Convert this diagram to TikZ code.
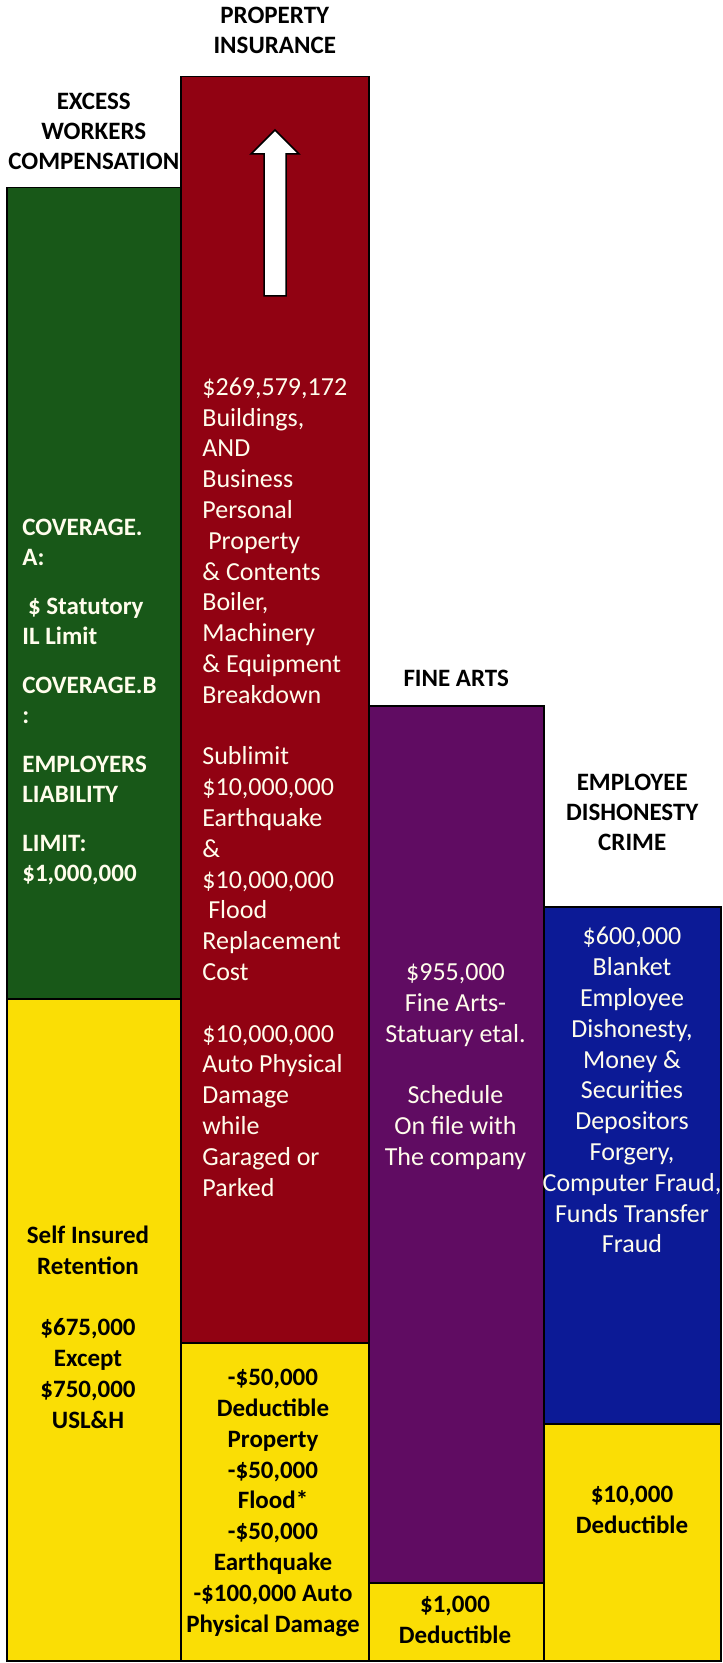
\documentclass[tikz,border=0pt]{standalone}
\usepackage{fontspec}
\setmainfont{Carlito}
\usepackage{tikz}
\usetikzlibrary{positioning}
\definecolor{wcgreen}{RGB}{24,88,24}
\definecolor{propred}{RGB}{145,2,18}
\definecolor{artpurple}{RGB}{96,12,98}
\definecolor{crimeblue}{RGB}{12,26,150}
\definecolor{dedyellow}{RGB}{250,222,5}
\definecolor{cream}{RGB}{255,253,236}

\tikzset{
  bar/.style={draw=black, line width=0.75pt, inner sep=0pt, anchor=north west},
  head/.style={font=\fontsize{12.5}{15}\selectfont\bfseries, align=center, inner sep=0pt,
    execute at begin node=\strut, execute at end node=\strut},
  wctext/.style={font=\fontsize{12.5}{15}\selectfont\bfseries, text=cream, align=left, inner sep=0pt,
    anchor=west, execute at begin node=\strut, execute at end node=\strut},
  cover/.style={font=\fontsize{13}{15.4}\selectfont, text=cream, inner sep=0pt,
    execute at begin node=\strut, execute at end node=\strut},
  retain/.style={font=\fontsize{12.5}{15.4}\selectfont\bfseries, align=center, inner sep=0pt,
    execute at begin node=\strut, execute at end node=\strut}
}

\begin{document}
\begin{tikzpicture}[x=0.5pt, y=-0.5pt]
\useasboundingbox (0,0) rectangle (722,1663);
% bars
\node[bar, fill=wcgreen, minimum width=87pt, minimum height=405.5pt] (wc) at (6,187) {};%
\node[bar, fill=dedyellow, minimum width=87pt, minimum height=331pt] (wcsir) at (6,998) {};%
\node[bar, fill=propred, minimum width=94pt, minimum height=633pt] (prop) at (180,76) {};%
\node[bar, fill=dedyellow, minimum width=94pt, minimum height=159pt] (propded) at (180,1342) {};%
\node[bar, fill=artpurple, minimum width=87.5pt, minimum height=438.5pt] (art) at (368,705) {};%
\node[bar, fill=dedyellow, minimum width=87.5pt, minimum height=39pt] (artded) at (368,1582) {};%
\node[bar, fill=crimeblue, minimum width=88.5pt, minimum height=258.5pt] (crime) at (543,906) {};%
\node[bar, fill=dedyellow, minimum width=88.5pt, minimum height=118.5pt] (crimeded) at (543,1423) {};%

% titles
\node[head, above=4pt of wc] (wctitle) {EXCESS\\WORKERS\\COMPENSATION};%
\node[head, above=6.5pt of prop] (proptitle) {PROPERTY\\INSURANCE};%
\node[head, above=4.5pt of art] (arttitle) {FINE ARTS};%
\node[head, above=23pt of crime] (crimetitle) {EMPLOYEE\\DISHONESTY\\CRIME};%

% up arrow
\draw[fill=white, line width=0.75pt]
  (264,296) -- (264,154) -- (251,154) -- (275,130) -- (299,154) -- (286,154) -- (286,296) -- cycle;

% coverage texts
\node[wctext] (wclimit) at (22,705)
  {COVERAGE.\\A:\\[9.5pt]~\$ Statutory\\IL Limit\\[9.5pt]COVERAGE.B\\:\\[9.5pt]EMPLOYERS\\LIABILITY\\[9.5pt]LIMIT:\\\$1,000,000};
\node[cover, anchor=west, align=left] (proplimit) at (202,791.5)
  {\$269,579,172\\Buildings,\\AND\\Business\\Personal\\~Property\\\& Contents\\Boiler,\\Machinery\\\& Equipment\\Breakdown\\[15.4pt]%
   Sublimit\\\$10,000,000\\Earthquake\\\&\\\$10,000,000\\~Flood\\Replacement\\Cost\\[15.4pt]%
   \$10,000,000\\Auto Physical\\Damage\\while\\Garaged or\\Parked};
\node[cover, align=center] (artlimit) at (455.5,1069.3)
  {\$955,000\\Fine Arts-\\Statuary etal.\\[15.4pt]Schedule\\On file with\\The company};
\node[cover, align=center] (crimelimit) at (632,1094.8)
  {\$600,000\\Blanket\\Employee\\Dishonesty,\\Money \&\\Securities\\Depositors\\Forgery,\\Computer Fraud,\\Funds Transfer\\Fraud};

% retentions and deductibles
\node[retain] (wcsirtext) at (88,1331.8)
  {Self Insured\\Retention\\[15.4pt]\$675,000\\Except\\\$750,000\\USL\&H};
\node[retain] (propdedtext) at (273,1505.3)
  {-\$50,000\\Deductible\\Property\\-\$50,000\\Flood*\\-\$50,000\\Earthquake\\-\$100,000 Auto\\Physical Damage};
\node[retain] (artdedtext) at (455,1624.3) {\$1,000\\Deductible};
\node[retain] (crimededtext) at (632,1514.3) {\$10,000\\Deductible};
\end{tikzpicture}
\end{document}
